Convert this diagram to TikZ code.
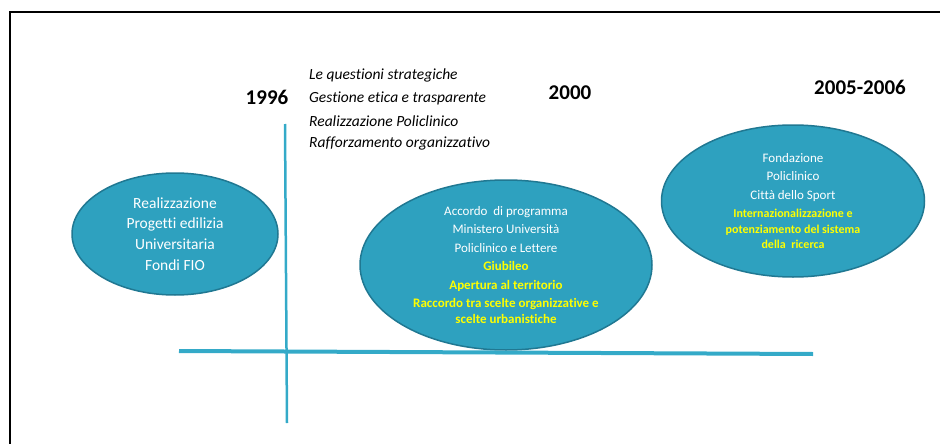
\documentclass[tikz,border=0pt]{standalone}
\usepackage{fontspec}
\setmainfont{Carlito}[Ligatures=NoCommon]
\usetikzlibrary{shapes.geometric}
\definecolor{ellfill}{RGB}{46,161,191}
\definecolor{elldraw}{RGB}{32,120,146}
\definecolor{axiscol}{RGB}{52,170,200}
\definecolor{ytext}{RGB}{255,255,0}
\tikzset{
  bubble/.style={ellipse, fill=ellfill, draw=elldraw, line width=1.5pt, text=white, align=center, inner sep=0pt},
  year/.style={font=\fontsize{21}{24}\selectfont\bfseries, inner sep=0pt},
  topic/.style={font=\fontsize{15.5}{18}\selectfont\itshape, anchor=west, inner sep=0pt},
  axis/.style={draw=axiscol}
}
\newcommand{\yl}[1]{\textcolor{ytext}{\bfseries #1}}
\begin{document}
\begin{tikzpicture}[x=1pt,y=-1pt]
\useasboundingbox (0,0) rectangle (940,444);
% frame
\draw[line width=2.5pt] (10,444) -- (10,12) -- (940,12);
% axes
\coordinate (hL) at (179,351);
\coordinate (hR) at (813,354);
\coordinate (vT) at (285,124);
\coordinate (vB) at (287,423);
% ellipses
\node[bubble, minimum width=206pt, minimum height=122pt, font=\fontsize{15.5}{20.7}\selectfont] (e1) at (175,234)
  {Realizzazione\\Progetti edilizia\\Universitaria\\Fondi FIO};
\node[bubble, minimum width=292pt, minimum height=170pt, font=\fontsize{13}{18.5}\selectfont] (e2) at (506,265)
  {Accordo\ \ di programma\\Ministero Università\\Policlinico e Lettere\\\yl{Giubileo}\\\yl{Apertura al territorio}\\\yl{Raccordo tra scelte organizzative e}\\[-3pt]\yl{scelte urbanistiche}};
\node[bubble, minimum width=263pt, minimum height=152pt, font=\fontsize{13}{18.5}\selectfont] (e3) at (793,201)
  {Fondazione\\Policlinico\\Città dello Sport\\{\fontsize{12}{15.5}\selectfont\yl{Internazionalizzazione e}}\\[-3pt]{\fontsize{12}{15.5}\selectfont\yl{potenziamento del sistema}}\\[-3pt]{\fontsize{12}{15.5}\selectfont\yl{della\ \ ricerca}}};
\draw[axis, line width=4pt] (hL) -- (hR);
\draw[axis, line width=2.5pt] (vT) -- (vB);
% years
\node[year] (y1) at (267,97) {1996};
\node[year] (y2) at (570,93) {2000};
\node[year] (y3) at (860,87) {2005-2006};
% topics
\node[topic] (t1) at (309,75) {Le questioni strategiche};
\node[topic] (t2) at (309,98) {Gestione etica e trasparente};
\node[topic] (t3) at (309,121) {Realizzazione Policlinico};
\node[topic] (t4) at (309,143) {Rafforzamento organizzativo};
\end{tikzpicture}
\end{document}
